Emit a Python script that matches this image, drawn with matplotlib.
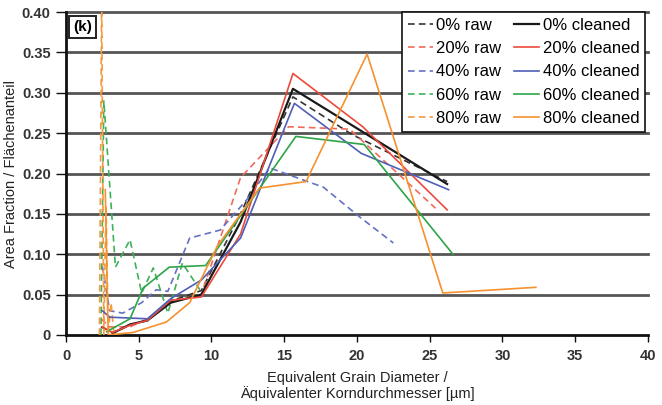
import matplotlib
matplotlib.use("Agg")
import matplotlib.pyplot as plt

plt.rcParams['font.family'] = ['Liberation Sans', 'DejaVu Sans']

# ---- data ----
x_0raw = [2.4, 3.2, 4.4, 5.6, 7.2, 9.3, 12.0, 15.6, 19.7, 26.2]
y_0raw = [0.010, 0.003, 0.012, 0.018, 0.042, 0.055, 0.150, 0.295, 0.248, 0.190]
x_0cl = [3.2, 4.4, 5.6, 7.2, 9.3, 12.0, 15.6, 26.2]
y_0cl = [0.002, 0.013, 0.018, 0.040, 0.050, 0.140, 0.305, 0.187]

x_20raw = [2.4, 3.0, 4.4, 5.6, 7.2, 9.3, 10.6, 12.0, 15.3, 19.5, 25.4]
y_20raw = [0.020, 0.010, 0.010, 0.020, 0.040, 0.050, 0.120, 0.195, 0.258, 0.255, 0.157]
x_20cl = [2.5, 3.2, 4.4, 5.6, 7.2, 9.3, 12.0, 15.6, 20.4, 26.2]
y_20cl = [0.010, 0.003, 0.012, 0.018, 0.043, 0.047, 0.125, 0.324, 0.258, 0.155]

x_40raw = [2.5, 3.0, 3.9, 5.2, 6.2, 7.0, 8.5, 10.6, 12.4, 14.0, 17.7, 20.2, 22.5]
y_40raw = [0.085, 0.030, 0.027, 0.040, 0.056, 0.054, 0.120, 0.130, 0.167, 0.207, 0.183, 0.146, 0.114]
x_40cl = [2.5, 3.0, 4.3, 5.6, 7.2, 9.3, 12.0, 15.7, 20.3, 26.3]
y_40cl = [0.030, 0.022, 0.021, 0.020, 0.045, 0.068, 0.120, 0.287, 0.225, 0.180]

x_60raw = [2.4, 2.6, 3.4, 4.4, 5.2, 6.0, 7.0, 8.0, 9.2]
y_60raw = [0.000, 0.290, 0.084, 0.118, 0.052, 0.083, 0.027, 0.089, 0.056]
x_60cl = [2.8, 4.4, 5.3, 7.1, 9.6, 15.8, 20.5, 26.6]
y_60cl = [0.004, 0.020, 0.058, 0.084, 0.086, 0.246, 0.236, 0.100]

x_80raw = [2.3, 2.45, 2.6, 2.75, 2.9, 3.1, 3.3]
y_80raw = [0.000, 0.420, 0.000, 0.160, 0.000, 0.040, 0.000]
x_80cl = [2.7, 2.9, 4.6, 6.9, 8.5, 10.4, 13.3, 16.5, 20.7, 25.9, 32.3]
y_80cl = [0.180, 0.000, 0.003, 0.016, 0.040, 0.110, 0.182, 0.190, 0.348, 0.052, 0.059]

labels = ['0%', '20%', '40%', '60%', '80%']
colors_cl = ['#1a1a1a', '#ec4a3c', '#4f5fb8', '#2ea447', '#f5912f']
colors_raw = ['#333333', '#f06b5a', '#6670c4', '#40b05a', '#f59a40']

raws = [(x_0raw, y_0raw), (x_20raw, y_20raw), (x_40raw, y_40raw), (x_60raw, y_60raw), (x_80raw, y_80raw)]
cls = [(x_0cl, y_0cl), (x_20cl, y_20cl), (x_40cl, y_40cl), (x_60cl, y_60cl), (x_80cl, y_80cl)]

fig = plt.figure(figsize=(6.62, 4.05), dpi=100)
ax = fig.add_axes([0.0997, 0.173, 0.879, 0.797])

for yv in [0.05, 0.10, 0.15, 0.20, 0.25, 0.30, 0.35, 0.40]:
    ax.axhline(yv, color='#555555', lw=2.0, zorder=1, clip_on=False)

handles = []
for i in range(5):
    hr, = ax.plot(*raws[i], ls=(0, (4, 2.5)), color=colors_raw[i], lw=1.2, zorder=3,
                  label=f'{labels[i]} raw')
    hc, = ax.plot(*cls[i], ls='-', color=colors_cl[i], lw=1.2 if i else 1.6, zorder=4,
                  label=f'{labels[i]} cleaned')
    handles.append((hr, hc))

ax.set_xlim(0, 40)
ax.set_ylim(0, 0.40)
ax.set_xticks(range(0, 41, 5))
ax.set_yticks([0, 0.05, 0.10, 0.15, 0.20, 0.25, 0.30, 0.35, 0.40])
ax.set_yticklabels(['0', '0.05', '0.10', '0.15', '0.20', '0.25', '0.30', '0.35', '0.40'])
for s in ['top', 'right']:
    ax.spines[s].set_visible(False)
for s in ['left', 'bottom']:
    ax.spines[s].set_linewidth(2.0)
    ax.spines[s].set_color('#111111')
ax.tick_params(axis='both', labelsize=10.5, colors='#111111', labelcolor='#333333',
               width=1.0, direction='out')
ax.tick_params(axis='y', length=7, pad=4)
ax.tick_params(axis='x', length=5, pad=5)
for t in ax.get_xticklabels() + ax.get_yticklabels():
    t.set_fontweight('bold')
ax.set_xlabel('Equivalent Grain Diameter /\nÄquivalenter Korndurchmesser [µm]',
              fontsize=10.5, color='#222222', labelpad=6, linespacing=1.1)
ax.set_ylabel('Area Fraction / Flächenanteil', fontsize=10.5, color='#222222', labelpad=3)

order = [h[0] for h in handles] + [h[1] for h in handles]
leg = ax.legend(handles=order, ncol=2, loc='upper right', bbox_to_anchor=(0.9985, 1.006),
                fontsize=12, frameon=True, fancybox=False, handlelength=1.5,
                handletextpad=0.2, columnspacing=0.8, labelspacing=0.5,
                borderpad=0.35, borderaxespad=0.1)
leg.get_frame().set_edgecolor('#111111')
leg.get_frame().set_linewidth(1.2)
leg.get_frame().set_facecolor('white')
leg.get_frame().set_alpha(1)
leg.set_zorder(10)

ax.text(0.012, 0.975, '(k)', transform=ax.transAxes, fontsize=11, fontweight='bold',
        va='top', ha='left', zorder=11,
        bbox=dict(boxstyle='square,pad=0.25', fc='white', ec='#222222', lw=1.4))

fig.savefig('out.png', dpi=100)
